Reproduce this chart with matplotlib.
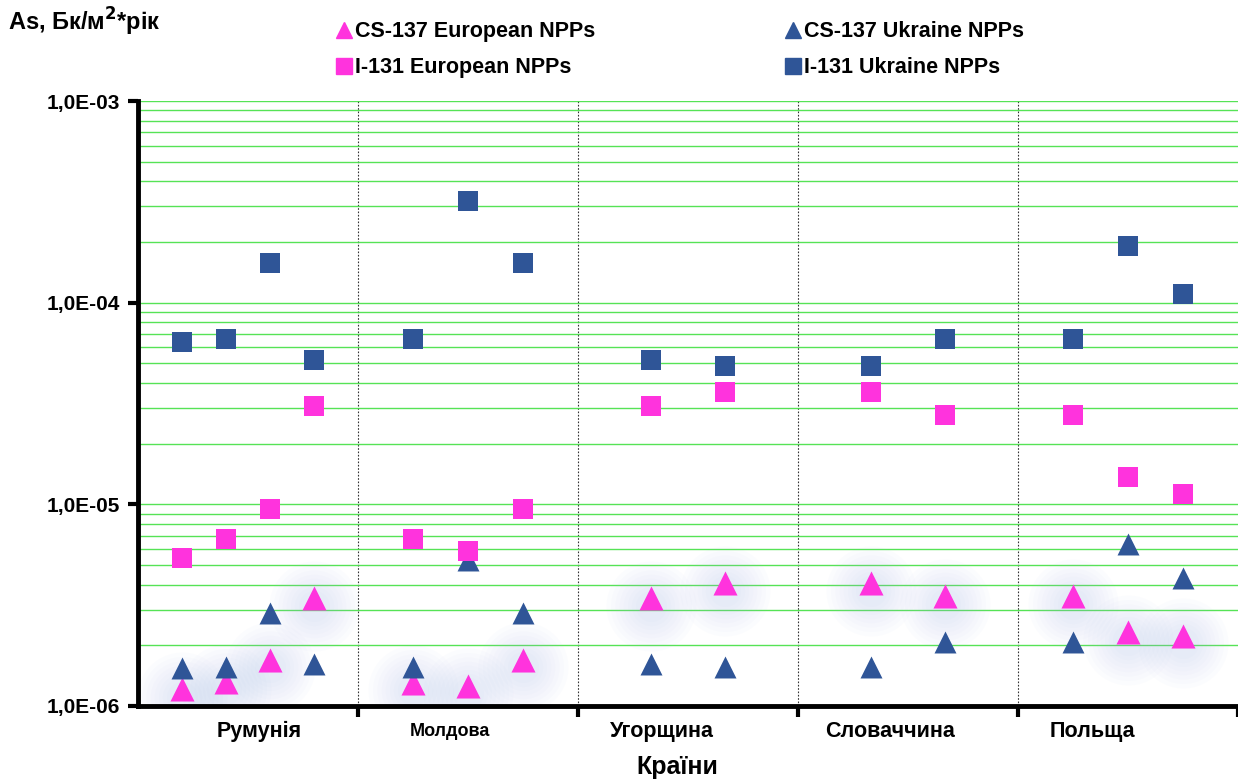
import numpy as np
import matplotlib
matplotlib.use("Agg")
import matplotlib.pyplot as plt
from matplotlib.ticker import FixedLocator, FuncFormatter, LogLocator, NullFormatter
from matplotlib.lines import Line2D

plt.rcParams['font.family'] = ['Liberation Sans', 'DejaVu Sans']
plt.rcParams['font.weight'] = 'bold'

# countries and per-country readings (Бк/м2*рік)
countries = ["Румунія", "Молдова", "Угорщина", "Словаччина", "Польща"]
cs137_eur = [[1.21e-6, 1.32e-6, 1.69e-6, 3.42e-6],
             [1.30e-6, 1.26e-6, 1.69e-6],
             [3.42e-6, 4.06e-6],
             [4.06e-6, 3.50e-6],
             [3.50e-6, 2.32e-6, 2.22e-6]]
cs137_ukr = [[1.54e-6, 1.56e-6, 2.90e-6, 1.61e-6],
             [1.56e-6, 5.30e-6, 2.90e-6],
             [1.61e-6, 1.56e-6],
             [1.56e-6, 2.07e-6],
             [2.07e-6, 6.34e-6, 4.30e-6]]
i131_eur = [[5.4e-6, 6.7e-6, 9.5e-6, 3.08e-5],
            [6.7e-6, 5.85e-6, 9.5e-6],
            [3.08e-5, 3.62e-5],
            [3.62e-5, 2.78e-5],
            [2.78e-5, 1.36e-5, 1.13e-5]]
i131_ukr = [[6.4e-5, 6.6e-5, 1.58e-4, 5.2e-5],
            [6.6e-5, 3.2e-4, 1.58e-4],
            [5.2e-5, 4.87e-5],
            [4.87e-5, 6.6e-5],
            [6.6e-5, 1.9e-4, 1.1e-4]]

PINK = '#ff33dd'
BLUE = '#2f5597'
GRID = '#44e044'


def xpos(groups):
    """spread the points of each country evenly inside its own unit slot"""
    xs = []
    for g, vals in enumerate(groups):
        n = len(vals)
        xs += [g + (i + 1) / (n + 1) for i in range(n)]
    return np.array(xs)


def flat(groups):
    return np.array([v for vals in groups for v in vals])


fig = plt.figure(figsize=(12.38, 7.8), dpi=100)
ax = fig.add_axes([138 / 1238, 1 - 706 / 780, 1100 / 1238, 605 / 780])
ax.set_yscale('log')
ax.set_ylim(1e-6, 1e-3)
ax.set_xlim(0, len(countries))

# green grid on every decade step
ax.yaxis.set_major_locator(FixedLocator([1e-6, 1e-5, 1e-4, 1e-3]))
ax.yaxis.set_minor_locator(LogLocator(base=10, subs=np.arange(2, 10)))
ax.yaxis.set_minor_formatter(NullFormatter())
ax.yaxis.set_major_formatter(FuncFormatter(lambda v, p: ("%.1E" % v).replace('.', ',')))
ax.grid(True, which='both', axis='y', color=GRID, lw=1.0, alpha=0.9)
ax.tick_params(axis='y', which='minor', length=0)
ax.tick_params(axis='y', which='major', length=7, width=3, direction='out', labelsize=15, pad=6)

# country separators
for g in range(1, len(countries)):
    ax.axvline(g, color='#333333', lw=0.8, ls=(0, (1.5, 1.5)), zorder=1)
ax.set_xticks(range(1, len(countries) + 1))
ax.set_xticklabels([])
ax.tick_params(axis='x', length=8, width=3, direction='out')

for s in ['top', 'right']:
    ax.spines[s].set_visible(False)
for s in ['left', 'bottom']:
    ax.spines[s].set_linewidth(3.5)
    ax.spines[s].set_zorder(6)

label_frac = [0.55, 0.42, 0.38, 0.42, 0.34]
label_size = [15.5, 13, 15.5, 15.5, 15.5]
for g, name in enumerate(countries):
    ax.text(g + label_frac[g], -0.042, name, transform=ax.get_xaxis_transform(),
            ha='center', va='center', fontsize=label_size[g], fontweight='bold')

# soft bluish glow under the european Cs-137 markers
xe, ye = xpos(cs137_eur), flat(cs137_eur)
for sz in [4200, 3400, 2700, 2100, 1600, 1150, 800, 500]:
    ax.scatter(xe, ye * 0.92, s=sz, marker='o', color='#9fb4e4', alpha=0.03,
               linewidths=0, zorder=2)

ax.scatter(xe, ye, s=300, marker='^', color=PINK, linewidths=0, zorder=4)
ax.scatter(xpos(cs137_ukr), flat(cs137_ukr), s=250, marker='^', color=BLUE, linewidths=0, zorder=4)
ax.scatter(xpos(i131_eur), flat(i131_eur), s=210, marker='s', color=PINK, linewidths=0, zorder=5)
ax.scatter(xpos(i131_ukr), flat(i131_ukr), s=220, marker='s', color=BLUE, linewidths=0, zorder=5)

fig.text(8 / 1238, 1 - 22 / 780, "As, Бк/м$^{\\mathbf{2}}$*рік", fontsize=17, fontweight='bold',
         va='center', ha='left')
fig.text(677 / 1238, 1 - 767 / 780, "Країни", fontsize=18, fontweight='bold', ha='center', va='center')

handles = [
    Line2D([], [], ls='none', marker='^', color=PINK, ms=12),
    Line2D([], [], ls='none', marker='s', color=PINK, ms=11),
    Line2D([], [], ls='none', marker='^', color=BLUE, ms=12),
    Line2D([], [], ls='none', marker='s', color=BLUE, ms=11),
]
labels = ["CS-137 European NPPs", "I-131 European NPPs",
          "CS-137 Ukraine NPPs", "I-131 Ukraine NPPs"]
fig.legend(handles, labels, ncol=2, loc='upper left', bbox_to_anchor=(318 / 1238, 1 - 2 / 780),
           frameon=False, handlelength=0.6, handletextpad=0.2,
           columnspacing=8.9, labelspacing=0.7, prop={'weight': 'bold', 'size': 15.5})

fig.savefig('out.png', dpi=100)
